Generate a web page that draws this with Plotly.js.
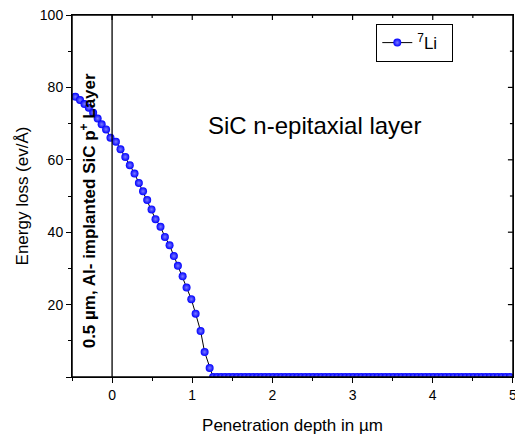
<!DOCTYPE html>
<html>
<head>
<meta charset="utf-8">
<script src="https://cdn.plot.ly/plotly-3.0.1.min.js"></script>
<style>body{margin:0;padding:0;background:#fff}#chart{width:515px;height:435px}</style>
</head>
<body>
<div id="chart"></div>
<script>
// Energy loss curve, region 1 (decreasing part)
var depthDecline = [-0.458,-0.400,-0.344,-0.290,-0.236,-0.180,-0.130,-0.075,-0.020,0.048,0.105,0.165,0.221,0.280,0.334,0.386,0.438,0.492,0.542,0.604,0.659,0.717,0.771,0.821,0.880,0.929,0.988,1.042,1.104,1.154,1.217];
var lossDecline = [77.4,76.5,75.4,74.4,73.0,71.4,69.8,68.4,66.1,65.0,62.9,60.8,58.5,56.2,53.6,51.3,48.9,46.3,43.6,41.5,38.7,36.4,33.4,30.7,27.8,24.7,21.5,17.5,12.7,6.9,2.5];
// region 2 (flat part, zero loss)
var depthFlat = [1.26,1.31,1.36,1.41,1.46,1.51,1.56,1.61,1.66,1.71,1.76,1.81,1.86,1.91,1.96,2.01,2.06,2.11,2.16,2.21,2.26,2.31,2.36,2.41,2.46,2.51,2.56,2.61,2.66,2.71,2.76,2.81,2.86,2.91,2.96,3.01,3.06,3.11,3.16,3.21,3.26,3.31,3.36,3.41,3.46,3.51,3.56,3.61,3.66,3.71,3.76,3.81,3.86,3.91,3.96,4.01,4.06,4.11,4.16,4.21,4.26,4.31,4.36,4.41,4.46,4.51,4.56,4.61,4.66,4.71,4.76,4.81,4.86,4.91,4.96];
var lossFlat = [0,0,0,0,0,0,0,0,0,0,0,0,0,0,0,0,0,0,0,0,0,0,0,0,0,0,0,0,0,0,0,0,0,0,0,0,0,0,0,0,0,0,0,0,0,0,0,0,0,0,0,0,0,0,0,0,0,0,0,0,0,0,0,0,0,0,0,0,0,0,0,0,0,0,0];
var xTickVals = [0,1,2,3,4,5];
var xTickText = ['0','1','2','3','4','5'];
var xMinorVals = [-0.5,0.5,1.5,2.5,3.5,4.5];
var yTickVals = [0,20,40,60,80,100];
var yTickText = ['','20','40','60','80','100'];
var yMinorVals = [10,30,50,70,90];
var seriesName = '<sup>7</sup>Li&nbsp;&nbsp;';

var FONT = 'Liberation Sans, Arial, sans-serif';
var X_MIN = -0.5, X_MAX = 5.001, Y_MIN = 0, Y_MAX = 100;

var trace = {
  x: depthDecline.concat(depthFlat),
  y: lossDecline.concat(lossFlat),
  type: 'scatter',
  mode: 'lines+markers',
  name: seriesName,
  line: {color: '#000000', width: 1},
  marker: {size: 8, color: '#0000ff', line: {width: 0},
           gradient: {type: 'radial', color: '#7a7aff'}},
  cliponaxis: true
};

// frame, divider line at x = 0 and inward ticks on the top/right edges
var shapes = [
  {type: 'rect', xref: 'paper', yref: 'paper', x0: 0, x1: 1, y0: 0, y1: 1,
   line: {color: '#000', width: 1.5}, fillcolor: 'rgba(0,0,0,0)', layer: 'above'},
  {type: 'line', xref: 'x', yref: 'y', x0: 0, x1: 0, y0: Y_MIN, y1: Y_MAX,
   line: {color: '#000', width: 1.3}}
];
function topTick(v, len) {
  return {type: 'line', xref: 'x', yref: 'y', ysizemode: 'pixel', yanchor: Y_MAX,
          x0: v, x1: v, y0: 0, y1: -len, line: {color: '#000', width: 1.2}};
}
function rightTick(v, len) {
  return {type: 'line', xref: 'x', yref: 'y', xsizemode: 'pixel', xanchor: 5,
          y0: v, y1: v, x0: 0, x1: -len, line: {color: '#000', width: 1.2}};
}
xTickVals.forEach(function(v){ if (v > X_MIN && v < 5) shapes.push(topTick(v, 5)); });
xMinorVals.forEach(function(v){ if (v > X_MIN) shapes.push(topTick(v, 3)); });
yTickVals.forEach(function(v){ if (v > Y_MIN && v < Y_MAX) shapes.push(rightTick(v, 5)); });
yMinorVals.forEach(function(v){ shapes.push(rightTick(v, 3)); });

var layout = {
  width: 515, height: 435,
  margin: {l: 72, r: 2, t: 15, b: 58},
  paper_bgcolor: '#ffffff', plot_bgcolor: '#ffffff',
  font: {family: FONT, size: 14, color: '#000'},
  showlegend: true,
  legend: {x: 0.69, y: 0.975, xanchor: 'left', yanchor: 'top',
           bordercolor: '#000', borderwidth: 1, bgcolor: '#fff',
           font: {family: FONT, size: 17}},
  xaxis: {
    range: [X_MIN, X_MAX], showline: true, mirror: true, linecolor: '#000', linewidth: 1,
    ticks: 'outside', ticklen: 5, tickcolor: '#000',
    tickmode: 'array', tickvals: xTickVals, ticktext: xTickText,
    ticklabeloverflow: 'allow',
    minor: {tickmode: 'array', tickvals: xMinorVals, ticklen: 3, ticks: 'outside', tickcolor: '#000'},
    showgrid: false, zeroline: false,
    tickfont: {family: FONT, size: 14},
    title: {text: 'Penetration depth in µm', font: {family: FONT, size: 17}, standoff: 18}
  },
  yaxis: {
    range: [Y_MIN, Y_MAX], showline: true, mirror: true, linecolor: '#000', linewidth: 1,
    ticks: 'outside', ticklen: 5, tickcolor: '#000',
    tickmode: 'array', tickvals: yTickVals, ticktext: yTickText,
    minor: {tickmode: 'array', tickvals: yMinorVals, ticklen: 3, ticks: 'outside', tickcolor: '#000'},
    showgrid: false, zeroline: false,
    tickfont: {family: FONT, size: 14},
    title: {text: 'Energy loss (ev/Å)', font: {family: FONT, size: 17}, standoff: 6}
  },
  shapes: shapes,
  annotations: [
    {xref: 'x', yref: 'y', x: -0.29, y: 46, text: '0.5 µm, Al- implanted SiC p<sup>+</sup> Layer',
     textangle: -90, showarrow: false, font: {family: FONT, size: 17, color: '#000', weight: 'bold'}},
    {xref: 'x', yref: 'y', x: 2.52, y: 69.6, text: 'SiC n-epitaxial layer',
     showarrow: false, font: {family: FONT, size: 24, color: '#000'}}
  ]
};

Plotly.newPlot('chart', [trace], layout, {displayModeBar: false, staticPlot: true});
</script>
</body>
</html>
